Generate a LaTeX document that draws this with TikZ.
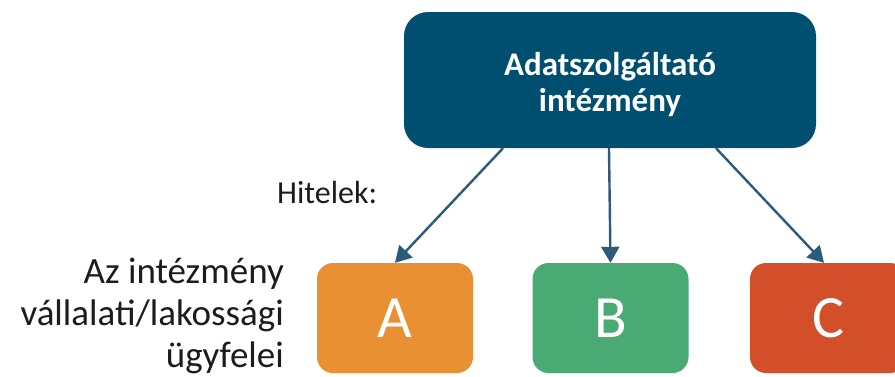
\documentclass[tikz,border=0pt]{standalone}
\usepackage{fontspec}
\setmainfont{Carlito}
\usetikzlibrary{arrows.meta,calc}
\definecolor{instblue}{RGB}{0,79,112}
\definecolor{linkblue}{RGB}{44,90,122}
\definecolor{clientA}{RGB}{232,144,50}
\definecolor{clientB}{RGB}{74,170,115}
\definecolor{clientC}{RGB}{210,79,41}
\definecolor{labeltext}{RGB}{28,28,28}
\tikzset{
  instbox/.style={rectangle, rounded corners=24pt, fill=instblue,
    minimum width=412pt, minimum height=136pt, inner sep=0pt},
  insttitle/.style={text=white, inner sep=0pt, align=center,
    font=\fontsize{33}{36}\selectfont\bfseries},
  clientbox/.style={rectangle, rounded corners=16pt, text=white,
    minimum width=156pt, minimum height=110pt, inner sep=0pt,
    font=\fontsize{60}{60}\selectfont},
  link/.style={draw=linkblue, line width=2.4pt,
    -{Triangle[length=16pt,width=18pt]}},
  sidetext/.style={text=labeltext, inner sep=0pt}
}
\begin{document}
\begin{tikzpicture}[x=1pt,y=-1pt]
  \useasboundingbox (0,0) rectangle (895,376);
  \begin{scope}
    \clip (0,0) rectangle (895,376);
    % data provider at the top
    \node[instbox] (inst) at (610,80) {};
    \node[insttitle] (insttext) at ($(inst.center)+(0,5)$) {Adatszolgáltató\\intézmény};
    % client groups
    \node[clientbox, fill=clientA] (a) at (395,318) {A};
    \node[clientbox, fill=clientB] (b) at (610.5,318) {B};
    \node[clientbox, fill=clientC] (c) at (828,318) {C};
  \end{scope}
  % side captions
  \node[sidetext, anchor=base west, font=\fontsize{32}{36}\selectfont] (hitel) at (277,203) {Hitelek:};
  \node[sidetext, anchor=east, align=right, font=\fontsize{37}{42}\selectfont] (ugyfel) at (284,316)
    {Az intézmény\\vállalati/lakossági\\ügyfelei};
  % loans flowing to each client group
  \draw[link] ($(inst.south)+(-107,0)$) -- (a.north);
  \draw[link] ($(inst.south)+(-1,0)$) -- (b.north);
  \draw[link] ($(inst.south)+(106,0)$) -- ($(c.north)+(-4,0)$);
\end{tikzpicture}
\end{document}
